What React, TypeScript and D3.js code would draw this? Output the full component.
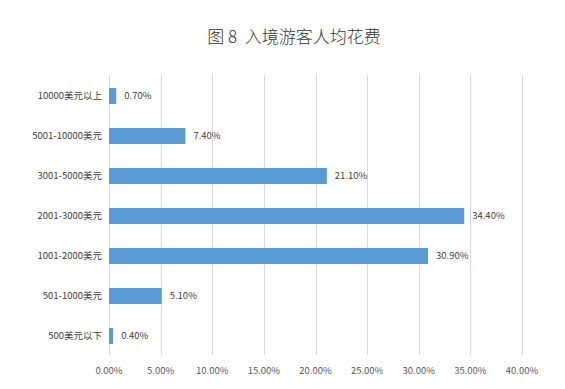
import React from "react";
import * as d3 from "d3";

const categories = ["10000美元以上", "5001-10000美元", "3001-5000美元", "2001-3000美元", "1001-2000美元", "501-1000美元", "500美元以下"];
const values = [0.7, 7.4, 21.1, 34.4, 30.9, 5.1, 0.4];
const ticks = [0, 5, 10, 15, 20, 25, 30, 35, 40];
const title = "图 8  入境游客人均花费";

const W = 565, H = 389;
const left = 109, right = 522, top = 75, bottom = 355;
const font = "'Noto Sans CJK SC', 'Noto Sans', sans-serif";

export default function App() {
  const x = d3.scaleLinear().domain([0, 40]).range([left, right]);
  const y = d3.scaleBand<string>().domain(categories).range([top + 1, bottom + 1]).paddingInner(0.6).paddingOuter(0.3);
  return (
    <svg width={W} height={H} style={{ position: "absolute", left: 0, top: 0, background: "#fff" }}>
      <rect width={W} height={H} fill="#fff" />
      <text x={294} y={43} textAnchor="middle" fontFamily={font} fontSize={17} fontWeight={300} fill="#333" style={{ whiteSpace: "pre" }}>{title}</text>
      {ticks.map((t) => (
        <g key={t}>
          <line x1={Math.round(x(t)) + 0.5} x2={Math.round(x(t)) + 0.5} y1={top} y2={bottom} stroke="#D9D9D9" strokeWidth={1} />
          <text x={x(t)} y={374} textAnchor="middle" fontFamily={font} fontSize={9.5} fill="#595959">{t.toFixed(2)}%</text>
        </g>
      ))}
      {categories.map((c, i) => {
        const yc = (y(c) as number) + y.bandwidth() / 2;
        return (
          <g key={c}>
            <rect x={x(0)} y={y(c)} width={x(values[i]) - x(0)} height={y.bandwidth()} fill="#5B9BD5" />
            <text x={x(values[i]) + 8} y={yc} dy="0.35em" fontFamily={font} fontSize={9.5} fill="#404040">{values[i].toFixed(2)}%</text>
            <text x={102} y={yc} dy="0.35em" textAnchor="end" fontFamily={font} fontSize={9.5} fill="#404040">{c}</text>
          </g>
        );
      })}
    </svg>
  );
}
